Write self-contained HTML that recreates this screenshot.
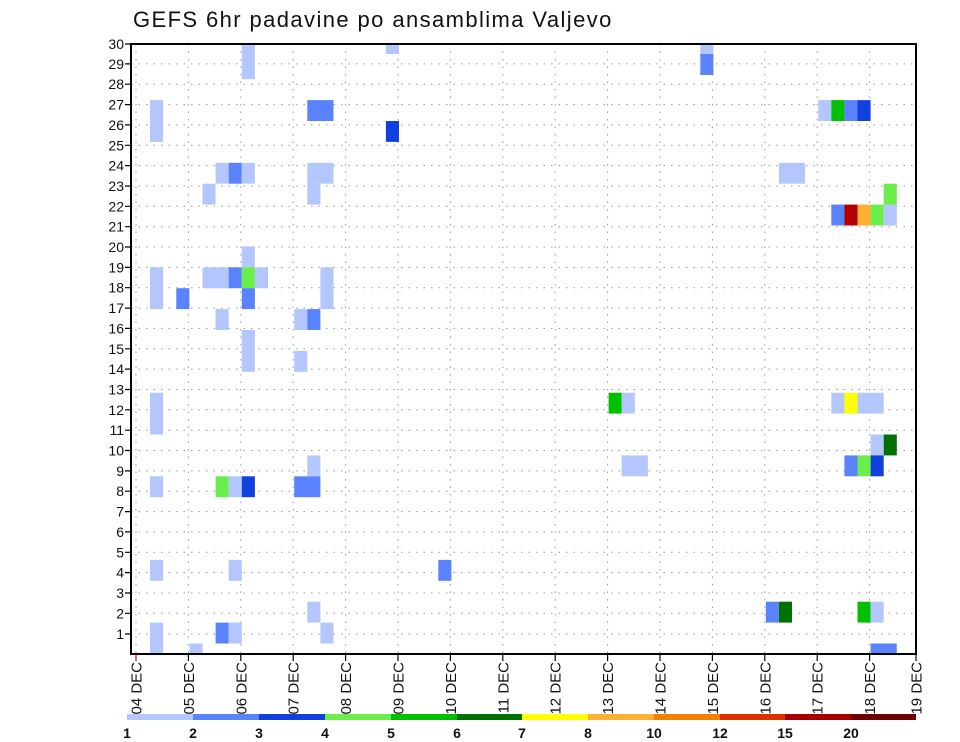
<!DOCTYPE html>
<html><head><meta charset="utf-8"><style>
html,body{margin:0;padding:0;background:#fff;}
svg{display:block;font-family:"Liberation Sans",sans-serif;}
.L{fill:#b4c6fe}.M{fill:#5a82fc}.D{fill:#1040e0}.LG{fill:#6aee4a}.G{fill:#00c000}.DG{fill:#007000}.Y{fill:#ffff00}.LO{fill:#ffb030}.DR{fill:#b00000}
.yl{font-size:14px;text-anchor:end}
.xl{font-size:15px;text-anchor:end}
</style></head><body>
<svg width="960" height="742" viewBox="0 0 960 742" xmlns="http://www.w3.org/2000/svg">
<text x="133" y="27" font-size="22" letter-spacing="1.4" fill="#111">GEFS 6hr padavine po ansamblima Valjevo</text>
<g stroke="#999" stroke-width="1" stroke-dasharray="1.5,6">
<path d="M131 634H916M131 613.3H916M131 593H916M131 572.6H916M131 552.3H916M131 531.9H916M131 511.6H916M131 491.2H916M131 470.9H916M131 450.5H916M131 430.2H916M131 409.8H916M131 389.5H916M131 369.1H916M131 348.8H916M131 328.4H916M131 308.1H916M131 287.7H916M131 267.4H916M131 247H916M131 226.7H916M131 206.3H916M131 186H916M131 165.6H916M131 145.3H916M131 124.9H916M131 104.6H916M131 84.2H916M131 63.9H916"/>
<path d="M136 44V654M188.4 44V654M240.8 44V654M293.2 44V654M345.6 44V654M398 44V654M450.4 44V654M502.8 44V654M555.2 44V654M607.6 44V654M660 44V654M712.4 44V654M764.8 44V654M817.2 44V654M869.6 44V654"/>
</g>
<g>
<rect class="L" x="150" y="100.1" width="13.1" height="41.8"/>
<rect class="L" x="150" y="267.3" width="13.1" height="41.8"/>
<rect class="L" x="150" y="392.7" width="13.1" height="41.8"/>
<rect class="L" x="150" y="476.3" width="13.1" height="20.9"/>
<rect class="L" x="150" y="559.9" width="13.1" height="20.9"/>
<rect class="L" x="150" y="622.6" width="13.1" height="31.4"/>
<rect class="M" x="176.3" y="288.2" width="13.1" height="20.9"/>
<rect class="L" x="189.4" y="643.5" width="13.1" height="10.5"/>
<rect class="L" x="202.5" y="183.7" width="13.1" height="20.9"/>
<rect class="L" x="202.5" y="267.3" width="26.2" height="20.9"/>
<rect class="L" x="215.6" y="162.8" width="13.1" height="20.9"/>
<rect class="L" x="215.6" y="309.1" width="13.1" height="20.9"/>
<rect class="LG" x="215.6" y="476.3" width="13.1" height="20.9"/>
<rect class="M" x="215.6" y="622.6" width="13.1" height="20.9"/>
<rect class="M" x="228.7" y="162.8" width="13.1" height="20.9"/>
<rect class="M" x="228.7" y="267.3" width="13.1" height="20.9"/>
<rect class="L" x="228.7" y="476.3" width="13.1" height="20.9"/>
<rect class="L" x="228.7" y="559.9" width="13.1" height="20.9"/>
<rect class="L" x="228.7" y="622.6" width="13.1" height="20.9"/>
<rect class="L" x="241.8" y="44" width="13.1" height="35.2"/>
<rect class="L" x="241.8" y="162.8" width="13.1" height="20.9"/>
<rect class="L" x="241.8" y="246.4" width="13.1" height="20.9"/>
<rect class="LG" x="241.8" y="267.3" width="13.1" height="20.9"/>
<rect class="M" x="241.8" y="288.2" width="13.1" height="20.9"/>
<rect class="L" x="241.8" y="330" width="13.1" height="41.8"/>
<rect class="D" x="241.8" y="476.3" width="13.1" height="20.9"/>
<rect class="L" x="254.9" y="267.3" width="13.1" height="20.9"/>
<rect class="L" x="294.2" y="309.1" width="13.1" height="20.9"/>
<rect class="L" x="294.2" y="350.9" width="13.1" height="20.9"/>
<rect class="M" x="294.2" y="476.3" width="26.2" height="20.9"/>
<rect class="M" x="307.3" y="100.1" width="26.2" height="20.9"/>
<rect class="L" x="307.3" y="162.8" width="26.2" height="20.9"/>
<rect class="L" x="307.3" y="183.7" width="13.1" height="20.9"/>
<rect class="M" x="307.3" y="309.1" width="13.1" height="20.9"/>
<rect class="L" x="307.3" y="455.4" width="13.1" height="20.9"/>
<rect class="L" x="307.3" y="601.7" width="13.1" height="20.9"/>
<rect class="L" x="320.4" y="267.3" width="13.1" height="41.8"/>
<rect class="L" x="320.4" y="622.6" width="13.1" height="20.9"/>
<rect class="L" x="385.9" y="44" width="13.1" height="10"/>
<rect class="D" x="385.9" y="121" width="13.1" height="20.9"/>
<rect class="M" x="438.3" y="559.9" width="13.1" height="20.9"/>
<rect class="G" x="608.6" y="392.7" width="13.1" height="20.9"/>
<rect class="L" x="621.7" y="392.7" width="13.1" height="20.9"/>
<rect class="L" x="621.7" y="455.4" width="26.2" height="20.9"/>
<rect class="L" x="700.3" y="44" width="13.1" height="10"/>
<rect class="M" x="700.3" y="54" width="13.1" height="21"/>
<rect class="M" x="765.8" y="601.7" width="13.1" height="20.9"/>
<rect class="DG" x="778.9" y="601.7" width="13.1" height="20.9"/>
<rect class="L" x="778.9" y="162.8" width="26.2" height="20.9"/>
<rect class="L" x="818.2" y="100.1" width="13.1" height="20.9"/>
<rect class="G" x="831.3" y="100.1" width="13.1" height="20.9"/>
<rect class="M" x="844.4" y="100.1" width="13.1" height="20.9"/>
<rect class="D" x="857.5" y="100.1" width="13.1" height="20.9"/>
<rect class="M" x="831.3" y="204.6" width="13.1" height="20.9"/>
<rect class="DR" x="844.4" y="204.6" width="13.1" height="20.9"/>
<rect class="LO" x="857.5" y="204.6" width="13.1" height="20.9"/>
<rect class="LG" x="870.6" y="204.6" width="13.1" height="20.9"/>
<rect class="L" x="883.7" y="204.6" width="13.1" height="20.9"/>
<rect class="LG" x="883.7" y="183.7" width="13.1" height="20.9"/>
<rect class="L" x="831.3" y="392.7" width="13.1" height="20.9"/>
<rect class="Y" x="844.4" y="392.7" width="13.1" height="20.9"/>
<rect class="L" x="857.5" y="392.7" width="26.2" height="20.9"/>
<rect class="L" x="870.6" y="434.5" width="13.1" height="20.9"/>
<rect class="DG" x="883.7" y="434.5" width="13.1" height="20.9"/>
<rect class="M" x="844.4" y="455.4" width="13.1" height="20.9"/>
<rect class="LG" x="857.5" y="455.4" width="13.1" height="20.9"/>
<rect class="D" x="870.6" y="455.4" width="13.1" height="20.9"/>
<rect class="G" x="857.5" y="601.7" width="13.1" height="20.9"/>
<rect class="L" x="870.6" y="601.7" width="13.1" height="20.9"/>
<rect class="M" x="870.6" y="643.5" width="26.2" height="10.5"/>
</g>
<rect x="131" y="44" width="785" height="610" fill="none" stroke="#000" stroke-width="2"/>
<g stroke="#000" stroke-width="1.2">
<path d="M125 634H131M125 613.3H131M125 593H131M125 572.6H131M125 552.3H131M125 531.9H131M125 511.6H131M125 491.2H131M125 470.9H131M125 450.5H131M125 430.2H131M125 409.8H131M125 389.5H131M125 369.1H131M125 348.8H131M125 328.4H131M125 308.1H131M125 287.7H131M125 267.4H131M125 247H131M125 226.7H131M125 206.3H131M125 186H131M125 165.6H131M125 145.3H131M125 124.9H131M125 104.6H131M125 84.2H131M125 63.9H131M125 44H131"/>
<path d="M188.4 654V661M240.8 654V661M293.2 654V661M345.6 654V661M398 654V661M450.4 654V661M502.8 654V661M555.2 654V661M607.6 654V661M660 654V661M712.4 654V661M764.8 654V661M817.2 654V661M869.6 654V661M916 654V661"/>
</g>
<path d="M136 654V661" stroke="#c00" stroke-width="1.2"/>
<g class="yl" fill="#111">
<text x="124" y="639">1</text><text x="124" y="618.3">2</text><text x="124" y="598">3</text><text x="124" y="577.6">4</text><text x="124" y="557.3">5</text><text x="124" y="536.9">6</text><text x="124" y="516.6">7</text><text x="124" y="496.2">8</text><text x="124" y="475.9">9</text><text x="124" y="455.5">10</text><text x="124" y="435.2">11</text><text x="124" y="414.8">12</text><text x="124" y="394.5">13</text><text x="124" y="374.1">14</text><text x="124" y="353.8">15</text><text x="124" y="333.4">16</text><text x="124" y="313.1">17</text><text x="124" y="292.7">18</text><text x="124" y="272.4">19</text><text x="124" y="252">20</text><text x="124" y="231.7">21</text><text x="124" y="211.3">22</text><text x="124" y="191">23</text><text x="124" y="170.6">24</text><text x="124" y="150.3">25</text><text x="124" y="129.9">26</text><text x="124" y="109.6">27</text><text x="124" y="89.2">28</text><text x="124" y="68.9">29</text><text x="124" y="49">30</text>
</g>
<g class="xl" fill="#111">
<text transform="translate(141.5,662) rotate(-90)">04 DEC</text>
<text transform="translate(193.9,662) rotate(-90)">05 DEC</text>
<text transform="translate(246.3,662) rotate(-90)">06 DEC</text>
<text transform="translate(298.7,662) rotate(-90)">07 DEC</text>
<text transform="translate(351.1,662) rotate(-90)">08 DEC</text>
<text transform="translate(403.5,662) rotate(-90)">09 DEC</text>
<text transform="translate(455.9,662) rotate(-90)">10 DEC</text>
<text transform="translate(508.3,662) rotate(-90)">11 DEC</text>
<text transform="translate(560.7,662) rotate(-90)">12 DEC</text>
<text transform="translate(613.1,662) rotate(-90)">13 DEC</text>
<text transform="translate(665.5,662) rotate(-90)">14 DEC</text>
<text transform="translate(717.9,662) rotate(-90)">15 DEC</text>
<text transform="translate(770.3,662) rotate(-90)">16 DEC</text>
<text transform="translate(822.7,662) rotate(-90)">17 DEC</text>
<text transform="translate(875.1,662) rotate(-90)">18 DEC</text>
<text transform="translate(921.5,662) rotate(-90)">19 DEC</text>
</g>
<g>
<rect x="127" y="714" width="66" height="6" fill="#b4c6fe"/>
<rect x="193" y="714" width="66" height="6" fill="#5a82fc"/>
<rect x="259" y="714" width="66" height="6" fill="#1040e0"/>
<rect x="325" y="714" width="66" height="6" fill="#6aee4a"/>
<rect x="391" y="714" width="66" height="6" fill="#00c000"/>
<rect x="457" y="714" width="65" height="6" fill="#007000"/>
<rect x="522" y="714" width="66" height="6" fill="#ffff00"/>
<rect x="588" y="714" width="66" height="6" fill="#ffb030"/>
<rect x="654" y="714" width="66" height="6" fill="#f08000"/>
<rect x="720" y="714" width="65" height="6" fill="#e03000"/>
<rect x="785" y="714" width="66" height="6" fill="#a80000"/>
<rect x="851" y="714" width="65" height="6" fill="#700000"/>
</g>
<g font-size="14" text-anchor="middle" fill="#111" font-weight="600">
<text x="127" y="738">1</text><text x="193" y="738">2</text><text x="259" y="738">3</text><text x="325" y="738">4</text><text x="391" y="738">5</text><text x="457" y="738">6</text><text x="522" y="738">7</text><text x="588" y="738">8</text><text x="654" y="738">10</text><text x="720" y="738">12</text><text x="785" y="738">15</text><text x="851" y="738">20</text>
</g>
</svg>
</body></html>
